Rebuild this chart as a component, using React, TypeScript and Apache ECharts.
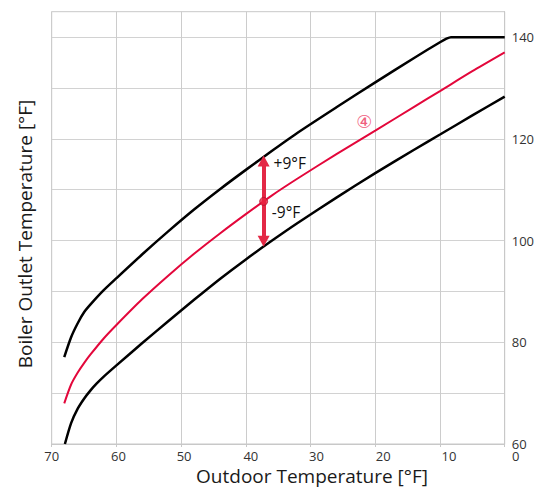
import React, { useEffect, useRef } from "react";
import * as echarts from "echarts";

// Outdoor temperature [°F] vs boiler outlet temperature [°F]
const upperCurve: [number, number][] = [
  [68.06, 77.1], [67, 81.0], [66, 83.7], [65, 85.9], [64, 87.45], [62, 90.2],
  [60, 92.6], [56, 97.3], [52, 101.8], [48, 106.1], [44, 110.1], [40, 113.9],
  [36, 117.6], [32, 121.2], [26, 126.2], [20, 131.1], [14, 135.9], [10, 139.0],
  [9, 139.7], [8.3, 140], [6, 140], [0, 140],
];
const setpointCurve: [number, number][] = [
  [68.06, 68.0], [67, 71.7], [66, 74.0], [65, 75.9], [64, 77.6], [62, 80.7],
  [60, 83.4], [56, 88.5], [52, 93.1], [48, 97.4], [44, 101.4], [40, 105.2],
  [36, 108.85], [32, 112.2], [26, 117.0], [20, 121.6], [14, 126.3], [10, 129.4],
  [5, 133.3], [0, 137.0],
];
const lowerCurve: [number, number][] = [
  [67.96, 60.0], [67, 64.1], [66, 66.9], [65, 68.9], [64, 70.55], [63, 71.95],
  [62, 73.2], [60, 75.45], [56, 79.85], [52, 84.15], [48, 88.35], [44, 92.45],
  [40, 96.3], [36, 99.95], [32, 103.45], [26, 108.45], [20, 113.25], [14, 117.85],
  [10, 120.85], [5, 124.6], [0, 128.3],
];
const setpointDot: [number, number] = [37.25, 107.7];
const arrowLow = 98.8;
const arrowHigh = 116.7;
const plusLabel = { text: "+9°F", at: [35.72, 115.3] };
const minusLabel = { text: "-9°F", at: [35.98, 105.7] };
const curveTag = { text: "④", at: [21.7, 123.4] };
const xTicks = [70, 60, 50, 40, 30, 20, 10, 0];
const yLabelled = [60, 80, 100, 120, 140];

const FONT = "'Open Sans', 'Noto Sans', sans-serif";
const RED = "#e3073b";
const ARROW = "#e32845";

export default function App() {
  const ref = useRef<HTMLDivElement>(null);
  useEffect(() => {
    document.body.style.margin = "0";
    if (!ref.current) return;
    const chart = echarts.init(ref.current, undefined, { renderer: "svg" });
    const rich: Record<string, any> = {};
    xTicks.forEach((v) => {
      const d = Math.round((70 - v) * 0.15);
      rich["o" + v] = { padding: [0, 0, 0, 2 * d], fontSize: 13, fontFamily: FONT, color: "#333" };
    });
    const curve = (data: [number, number][], color: string, width: number) => ({
      type: "line", data, showSymbol: false, smooth: 0.25,
      lineStyle: { color, width }, z: 3,
    });
    chart.setOption({
      animation: false,
      backgroundColor: "#ffffff",
      grid: {
        left: 51.7, right: 29.3, top: 11.7, bottom: 43,
        show: true, borderColor: "#c8c8c8", borderWidth: 1,
      },
      xAxis: {
        type: "value", inverse: true, min: 0, max: 70, interval: 10,
        axisLine: { show: true, lineStyle: { color: "#c8c8c8", width: 1 } },
        axisTick: { show: true, length: 3, lineStyle: { color: "#c8c8c8" } },
        splitLine: { show: true, lineStyle: { color: "#cccccc", width: 1 } },
        axisLabel: {
          margin: 5,
          formatter: (v: number) => `{o${v}|${v}}`,
          rich,
        },
      },
      yAxis: {
        type: "value", position: "right", min: 60, max: 145, interval: 10,
        axisLine: { show: true, lineStyle: { color: "#c8c8c8", width: 1 } },
        axisTick: { show: false },
        splitLine: { show: true, lineStyle: { color: "#d2d2d2", width: 1 } },
        axisLabel: {
          margin: 7, fontSize: 13, fontFamily: FONT, color: "#333",
          formatter: (v: number) => (yLabelled.includes(v) ? String(v) : ""),
        },
      },
      graphic: [
        {
          type: "text", x: 25, y: 234, rotation: Math.PI / 2,
          style: {
            text: "Boiler Outlet Temperature [°F]", fill: "#1a1a1a",
            font: `19px ${FONT}`, textAlign: "center", textVerticalAlign: "middle",
          },
        },
        {
          type: "text", x: 312, y: 476,
          style: {
            text: "Outdoor Temperature [°F]", fill: "#1a1a1a",
            font: `19px ${FONT}`, textAlign: "center", textVerticalAlign: "middle",
          },
        },
      ],
      series: [
        curve(upperCurve, "#000", 2.5),
        curve(lowerCurve, "#000", 2.5),
        {
          ...curve(setpointCurve, RED, 2),
          markPoint: {
            silent: true, symbol: "circle", symbolSize: 0,
            data: [{ coord: curveTag.at, name: curveTag.text }],
            label: {
              show: true, position: "inside", formatter: "{b}",
              fontSize: 18, color: "#f0607e", fontFamily: "'DejaVu Sans', sans-serif",
            },
          },
        },
        {
          type: "scatter", data: [setpointDot], symbol: "circle", symbolSize: 8, z: 6,
          itemStyle: { color: "#e8203f", borderColor: "#b5122e", borderWidth: 1 },
          markLine: {
            silent: true, symbol: ["triangle", "triangle"], symbolSize: [12, 11],
            lineStyle: { color: ARROW, width: 4, type: "solid" },
            itemStyle: { color: ARROW },
            label: { show: false },
            data: [[
              { coord: [setpointDot[0], arrowLow + 1.08] },
              { coord: [setpointDot[0], arrowHigh - 1.08] },
            ]],
            z: 5,
          },
          markPoint: {
            silent: true, symbol: "circle", symbolSize: 0,
            data: [
              { coord: plusLabel.at, name: plusLabel.text },
              { coord: minusLabel.at, name: minusLabel.text },
            ],
            label: {
              show: true, position: "inside", formatter: "{b}", align: "left",
              fontSize: 15.5, color: "#111", fontFamily: FONT,
            },
          },
        },
      ],
    });
    return () => chart.dispose();
  }, []);
  return <div ref={ref} style={{ width: 537, height: 487 }} />;
}
